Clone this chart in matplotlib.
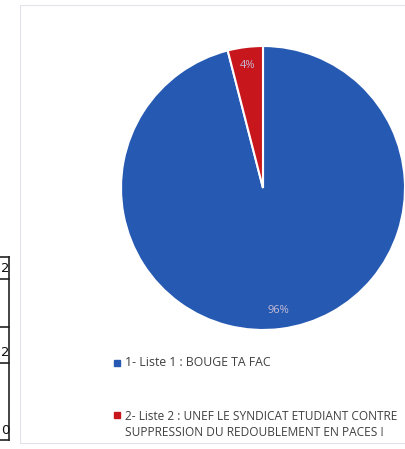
import matplotlib
matplotlib.use("Agg")
from matplotlib import pyplot as plt
from matplotlib.patches import Rectangle
from matplotlib.lines import Line2D

# data
labels = ["1- Liste 1 : BOUGE TA FAC",
          "2- Liste 2 : UNEF LE SYNDICAT ETUDIANT CONTRE\nSUPPRESSION DU REDOUBLEMENT EN PACES !"]
shares = [96, 4]
colors = ["#2659b2", "#c8161d"]
table_digits = ["2", "2", "0"]

W, H = 405, 449
fig = plt.figure(figsize=(W / 100, H / 100), dpi=100)
fig.patch.set_facecolor("white")


def fx(px):
    return px / W


def fy(py):
    return 1 - py / H


# chart frame (scanned, faint)
fig.add_artist(Rectangle((fx(20), fy(443)), fx(400), fy(5) - fy(443),
                         transform=fig.transFigure, fill=False,
                         edgecolor="#e2e2ea", linewidth=0.8))

# partial table on the left edge of the scan
for y in [257, 279, 327, 363, 440]:
    fig.add_artist(Line2D([fx(0), fx(9)], [fy(y), fy(y)], transform=fig.transFigure,
                          color="#222222", linewidth=1.2))
fig.add_artist(Line2D([fx(9), fx(9)], [fy(257), fy(440)], transform=fig.transFigure,
                      color="#222222", linewidth=1.2))
for d, y in zip(table_digits, [268, 352, 430]):
    fig.text(fx(1), fy(y), d, ha="left", va="center", fontsize=9.5,
             family="DejaVu Sans", color="#111111")

# pie
cx, cy, r = 263, 188, 142
ax = fig.add_axes([fx(cx - r), fy(cy + r), fx(2 * r), fy(cy - r) - fy(cy + r)])
wedges, texts, autotexts = ax.pie(shares, colors=colors, startangle=90, counterclock=False,
                                  autopct="%1.0f%%", pctdistance=0.87,
                                  wedgeprops=dict(edgecolor="white", linewidth=1.5),
                                  textprops=dict(color="#c4bcd6", fontsize=8, family="Open Sans"))
ax.set_xlim(-1, 1)
ax.set_ylim(-1, 1)
ax.set_aspect("equal")
ax.axis("off")

# legend
fig.add_artist(Rectangle((fx(114), fy(366)), fx(6), fy(360) - fy(366),
                         transform=fig.transFigure, color=colors[0]))
fig.text(fx(125), fy(363), labels[0], ha="left", va="center", fontsize=8.8,
         family="Open Sans", color="#404040")
fig.add_artist(Rectangle((fx(114), fy(418)), fx(6), fy(412) - fy(418),
                         transform=fig.transFigure, color=colors[1]))
fig.text(fx(125), fy(424), labels[1], ha="left", va="center", fontsize=8.6,
         family="Open Sans", color="#404040", linespacing=1.3)

fig.savefig("out.png", dpi=100)
